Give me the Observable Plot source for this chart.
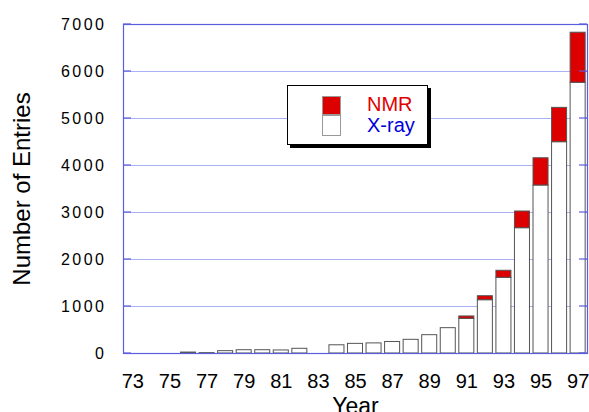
<!DOCTYPE html>
<html>
<head>
<meta charset="utf-8">
<script src="https://cdn.jsdelivr.net/npm/d3@7"></script>
<script src="https://cdn.jsdelivr.net/npm/@observablehq/plot@0.6"></script>
<style>
  html, body { margin: 0; padding: 0; background: white; }
  #wrap { position: relative; width: 589px; height: 412px; overflow: hidden; }
  svg g[aria-label="y-axis tick label"] text { letter-spacing: 2.5px; }
  #legend { position: absolute; left: 287px; top: 85px; width: 139px; height: 58px;
    border: 1.5px solid #000; background: #fff; box-shadow: 3px 3px 0 #000;
    font-family: "Liberation Sans", Arial, sans-serif; }
  .sw { position: absolute; left: 34px; width: 19px; box-sizing: border-box; }
  .lt { position: absolute; left: 79px; font-size: 20px; line-height: 20px; }
</style>
</head>
<body>
<div id="wrap">
  <div id="chart"></div>
  <div id="legend">
    <div class="sw" style="top:10px;height:19px;background:#dc0000;border:1px solid #999;"></div>
    <div class="sw" style="top:29px;height:21px;background:#fff;border:1px solid #999;"></div>
    <div class="lt" style="top:8px;color:#e00000;">NMR</div>
    <div class="lt" style="top:29px;color:#0000dd;">X-ray</div>
  </div>
</div>
<script>
const years = [73, 74, 75, 76, 77, 78, 79, 80, 81, 82, 83, 84, 85, 86, 87, 88, 89, 90, 91, 92, 93, 94, 95, 96, 97];
const xray  = [0, 0, 0, 20, 8, 50, 70, 70, 65, 100, 0, 175, 205, 215, 245, 291, 390, 539, 738, 1134, 1610, 2666, 3574, 4496, 5760];
const nmr   = [0, 0, 0, 0, 0, 0, 0, 0, 0, 0, 0, 0, 0, 0, 0, 0, 0, 0, 50, 85, 150, 355, 580, 730, 1065];
const yTicks = [0, 1000, 2000, 3000, 4000, 5000, 6000, 7000];
const xTicks = [73, 75, 77, 79, 81, 83, 85, 87, 89, 91, 93, 95, 97];

const data = years.map((year, i) => ({year, xray: xray[i], nmr: nmr[i]}));

const frameColor = "#5c5ce0";
const gridColor = "#aab0f5";

const plot = Plot.plot({
  width: 589,
  height: 412,
  marginLeft: 123,
  marginRight: 2,
  marginTop: 24,
  marginBottom: 59,
  style: {fontFamily: "'Liberation Sans', Arial, sans-serif", background: "white", color: "black"},
  x: {type: "band", domain: years, paddingInner: 0.19, paddingOuter: 0.1, round: false},
  y: {domain: [0, 7000]},
  marks: [
    Plot.gridY(yTicks, {stroke: gridColor, strokeOpacity: 1}),
    Plot.barY(data.filter(d => d.xray > 0), {x: "year", y: "xray", fill: "white", stroke: "#555", strokeWidth: 1}),
    Plot.barY(data.filter(d => d.nmr > 0), {x: "year", y1: "xray", y2: d => d.xray + d.nmr, fill: "#dc0000", stroke: "#555", strokeWidth: 1}),
    Plot.frame({stroke: frameColor, strokeWidth: 1.2}),
    Plot.axisY(yTicks, {tickSize: 0, tickPadding: 17, fontSize: 16, label: null, tickFormat: d3.format("d")}),
    Plot.axisX(xTicks, {tickSize: 0, tickPadding: 20, fontSize: 20, label: null}),
    Plot.text(["Year"], {text: d => d, frameAnchor: "bottom", dy: 60, lineAnchor: "bottom", fontSize: 23}),
    Plot.text(["Number of Entries"], {text: d => d, frameAnchor: "left", dx: -101, rotate: -90, textAnchor: "middle", lineAnchor: "middle", fontSize: 24})
  ]
});

document.getElementById("chart").appendChild(plot);

// inward tick marks on left and right frame edges, positioned by the plot's y scale
const ys = plot.scale("y");
const svg = d3.select(plot);
const g = svg.append("g").attr("stroke", frameColor).attr("stroke-width", 1.2);
for (const v of yTicks) {
  const yy = ys.apply(v);
  g.append("line").attr("x1", 123).attr("x2", 131).attr("y1", yy).attr("y2", yy);
  g.append("line").attr("x1", 579).attr("x2", 587).attr("y1", yy).attr("y2", yy);
}
</script>
</body>
</html>
